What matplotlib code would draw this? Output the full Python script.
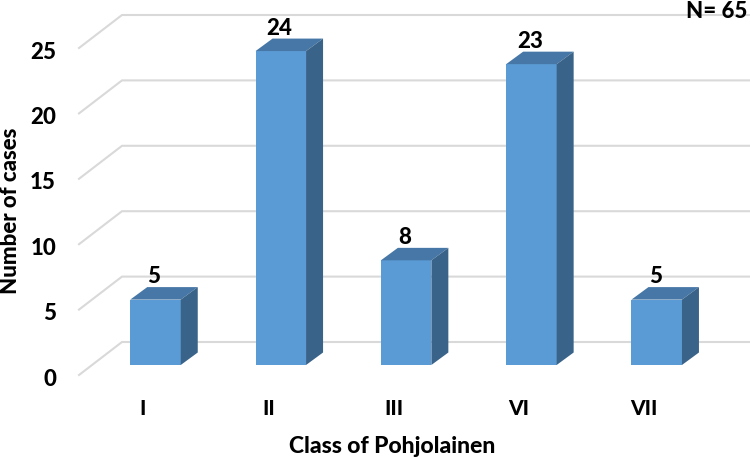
from matplotlib import pyplot as plt
from matplotlib.patches import Polygon
from matplotlib.transforms import ScaledTranslation

plt.rcParams['font.family'] = ['Lato', 'DejaVu Sans']

classes = ['I', 'II', 'III', 'VI', 'VII']
cases = [5, 24, 8, 23, 5]
y_ticks = [0, 5, 10, 15, 20, 25]

W, H = 750, 457
# pixel scale of the picture
ux = 125.3
uy = 13.08
x0_px = 155.5
left_px = 79
floor_px = 375

bar_w = 50.5 / ux
dx = 17 / ux
dy = 12.5 / uy
base = 10 / uy
wall_x = (122 - x0_px) / ux
wall_dy = 33 / uy
heavy = 900

fig = plt.figure(figsize=(W / 100, H / 100), dpi=100)
ax = fig.add_axes([left_px / W, (H - floor_px) / H, (W - left_px) / W, floor_px / H])
ax.set_xlim((left_px - x0_px) / ux, (W - x0_px) / ux)
ax.set_ylim(0, floor_px / uy)

for s in ax.spines.values():
    s.set_visible(False)

# gridlines with the slanted part on the left wall
for v in y_ticks:
    ax.plot([ax.get_xlim()[0], wall_x, ax.get_xlim()[1]], [v, v + wall_dy, v + wall_dy],
            c='#d9d9d9', lw=1.5, zorder=1, clip_on=False, solid_joinstyle='miter')

for i, v in enumerate(cases):
    x1 = i - bar_w / 2
    x2 = i + bar_w / 2
    top = base + v
    ax.add_patch(Polygon([(x1, base), (x2, base), (x2, top), (x1, top)],
                         fc='#5b9bd5', ec='none', zorder=3))
    ax.add_patch(Polygon([(x1, top), (x2, top), (x2 + dx, top + dy), (x1 + dx, top + dy)],
                         fc='#4677a6', ec='none', zorder=3))
    ax.add_patch(Polygon([(x2, base), (x2 + dx, base + dy), (x2 + dx, top + dy), (x2, top)],
                         fc='#3a6389', ec='none', zorder=3))
    ax.text(i - 0.012, top + dy - 0.03, str(v), ha='center', va='bottom', fontsize=16,
            fontweight=heavy, color='black', zorder=4)

ax.set_xticks([i - 0.1 for i in range(len(classes))])
ax.set_xticklabels(classes, fontsize=15, fontweight=heavy, color='black')
ax.set_yticks(y_ticks)
ax.set_yticklabels([str(v) for v in y_ticks], fontsize=16, fontweight=heavy, color='black')
ax.tick_params(axis='both', length=0)
ax.tick_params(axis='x', pad=17)
ax.tick_params(axis='y', pad=16.5)

# labels sit a little lower than the gridline ends
shift = ScaledTranslation(0, -1.5 / 72, fig.dpi_scale_trans)
for t in ax.get_yticklabels():
    t.set_transform(t.get_transform() + shift)

ax.set_xlabel('Class of Pohjolainen', fontsize=16.5, fontweight=heavy, color='black')
ax.xaxis.set_label_coords((392 - left_px) / (W - left_px), -(436 - floor_px) / floor_px)
ax.set_ylabel('Number of cases', fontsize=16, fontweight=heavy, color='black')
ax.yaxis.set_label_coords((21 - left_px) / (W - left_px), (floor_px - 211) / floor_px)

ax.text(1.0 - 3 / (W - left_px), 1.0 - 11 / floor_px, 'N= 65', transform=ax.transAxes,
        ha='right', va='center', fontsize=16, fontweight=heavy, color='black', zorder=5)

fig.savefig('out.png', dpi=100, facecolor='white')
